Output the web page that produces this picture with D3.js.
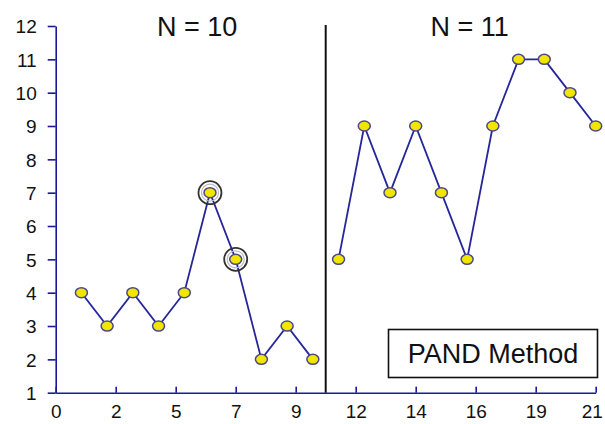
<!DOCTYPE html>
<html><head><meta charset="utf-8">
<script src="https://cdn.jsdelivr.net/npm/d3@7"></script>
<style>body{margin:0;background:#fff}svg{display:block}text{font-family:"Liberation Sans",Arial,sans-serif}</style>
</head><body><svg id="c" width="605" height="424"></svg>
<script>
const leftX = [1,2,3,4,5,6,7,8,9,10];
const leftY = [4,3,4,3,4,7,5,2,3,2];
const rightX = [11,12,13,14,15,16,17,18,19,20,21];
const rightY = [5,9,7,9,7,5,9,11,11,10,9];
const highlighted = [5,6]; // indices in left series
const yTicks = [1,2,3,4,5,6,7,8,9,10,11,12];
const xTickCount = 10;
const xDomain = [0,21];
const yDomain = [1,12];
const separatorX = 10.5;
const panelTitles = [{label:"N = 10", x:5.5},{label:"N = 11", x:16.1}];
const legendText = "PAND Method";

const svg = d3.select("#c");
const m = {l:55.7, r:9.3, t:26, b:31.3};
const W = 605, H = 424;
const x = d3.scaleLinear().domain(xDomain).range([m.l, W-m.r]);
const y = d3.scaleLinear().domain(yDomain).range([H-m.b, m.t]);
const axisCol = "#1a1a96";
const xTicks = d3.range(xTickCount).map(i => xDomain[0] + i*(xDomain[1]-xDomain[0])/(xTickCount-1));

// x axis
const gx = svg.append("g").attr("transform",`translate(0,${y(1)})`)
  .call(d3.axisBottom(x).tickValues(xTicks).tickFormat(d=>Math.round(d)).tickSizeInner(-6).tickSizeOuter(0).tickPadding(20));
gx.select(".domain").attr("stroke",axisCol).attr("stroke-width",1.6);
gx.selectAll(".tick line").attr("stroke",axisCol).attr("stroke-width",1.6);
gx.selectAll(".tick text").attr("fill","#111").attr("font-size",19).attr("dy",0).attr("y",25)
  .attr("dx",(d,i,n)=> i===n.length-1 ? -4 : 0);

// y axis
const gy = svg.append("g").attr("transform",`translate(${x(0)},0)`)
  .call(d3.axisLeft(y).tickValues(yTicks).tickFormat(d3.format("d")).tickSizeInner(8).tickSizeOuter(0).tickPadding(11));
gy.select(".domain").attr("stroke",axisCol).attr("stroke-width",1.6);
gy.selectAll(".tick line").attr("stroke",axisCol).attr("stroke-width",1.6);
gy.selectAll(".tick text").attr("fill","#111").attr("font-size",19).attr("dy","0.36em");

// separator
svg.append("line").attr("x1",x(separatorX)).attr("x2",x(separatorX))
  .attr("y1",m.t-1).attr("y2",y(1)).attr("stroke","#111").attr("stroke-width",2);

// titles
svg.selectAll(".ptitle").data(panelTitles).join("text").attr("class","ptitle")
  .attr("x",d=>x(d.x)).attr("y",36).attr("text-anchor","middle")
  .attr("font-size",27).attr("fill","#111").text(d=>d.label);

// series
const line = d3.line().x(d=>x(d[0])).y(d=>y(d[1]));
const series = [d3.zip(leftX,leftY), d3.zip(rightX,rightY)];
series.forEach(s=>{
  svg.append("path").datum(s).attr("d",line).attr("fill","none")
    .attr("stroke","#26269a").attr("stroke-width",1.8);
});
// highlight rings
highlighted.forEach(i=>{
  const cx = x(leftX[i]), cy = y(leftY[i]);
  svg.append("circle").attr("cx",cx).attr("cy",cy).attr("r",11.5)
    .attr("fill","none").attr("stroke","#333").attr("stroke-width",1.8);
  svg.append("circle").attr("cx",cx).attr("cy",cy).attr("r",8.5)
    .attr("fill","none").attr("stroke","#bbb").attr("stroke-width",1.2);
});
series.forEach(s=>{
  svg.selectAll(null).data(s).join("ellipse")
    .attr("cx",d=>x(d[0])).attr("cy",d=>y(d[1])).attr("rx",6).attr("ry",5)
    .attr("fill","#f2e600").attr("stroke","#4a4a88").attr("stroke-width",1.5);
});

// legend box
svg.append("rect").attr("x",388.5).attr("y",329.5).attr("width",209).attr("height",48)
  .attr("fill","#fff").attr("stroke","#111").attr("stroke-width",1.6);
svg.append("text").attr("x",493).attr("y",363).attr("text-anchor","middle")
  .attr("font-size",27).attr("fill","#111").text(legendText);
</script></body></html>
